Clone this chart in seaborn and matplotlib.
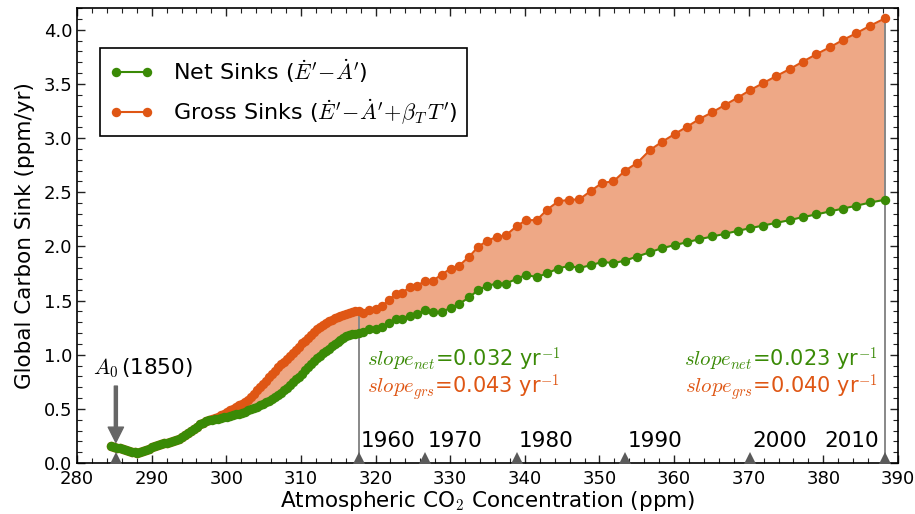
import matplotlib
matplotlib.use('Agg')
import matplotlib.pyplot as plt
from matplotlib.ticker import MultipleLocator
import pandas as pd
import seaborn as sns

# ---- values ----
# pre-1960 part (dense, overlapping yearly points)
co2_early = [284.5, 284.9, 285.3, 285.7, 286.1, 286.5, 286.9, 287.3, 287.7, 288.1,
             288.5, 288.9, 289.3, 289.7, 290.1, 290.5, 290.9, 291.3, 291.7, 292.1,
             292.5, 292.9, 293.3, 293.7, 294.1, 294.5, 294.9, 295.3, 295.7, 296.1,
             296.5, 296.9, 297.3,
             297.7, 298.1, 298.5, 298.9, 299.3, 299.7, 300.1, 300.5, 300.9, 301.3,
             301.7, 302.1, 302.5, 302.9, 303.3, 303.7, 304.1, 304.5, 304.9, 305.3,
             305.7, 306.1, 306.5, 306.9, 307.3, 307.7, 308.1, 308.5, 308.9, 309.3,
             309.7, 310.1, 310.5, 310.9, 311.3, 311.7, 312.1, 312.5, 312.9, 313.3,
             313.7, 314.1, 314.5, 314.9, 315.3, 315.7, 316.1, 316.5, 316.9, 317.3]
net_early = [0.157, 0.150, 0.143, 0.135, 0.128, 0.121, 0.114, 0.106, 0.099, 0.095,
             0.099, 0.108, 0.120, 0.132, 0.144, 0.155, 0.166, 0.174, 0.181, 0.189,
             0.197, 0.206, 0.215, 0.225, 0.240, 0.257, 0.278, 0.299, 0.318, 0.337,
             0.357, 0.372, 0.386,
             0.394, 0.399, 0.403, 0.408, 0.414, 0.421, 0.429, 0.435, 0.441, 0.449,
             0.457, 0.465, 0.475, 0.486, 0.497, 0.508, 0.521, 0.535, 0.549, 0.563,
             0.577, 0.593, 0.610, 0.629, 0.649, 0.672, 0.695, 0.719, 0.745, 0.771,
             0.798, 0.826, 0.854, 0.882, 0.910, 0.938, 0.965, 0.992, 1.014, 1.035,
             1.056, 1.078, 1.100, 1.121, 1.140, 1.158, 1.175, 1.183, 1.190, 1.195]
gross_early = [0.157, 0.150, 0.143, 0.135, 0.128, 0.121, 0.114, 0.106, 0.099, 0.095,
               0.099, 0.108, 0.120, 0.132, 0.144, 0.155, 0.166, 0.174, 0.181, 0.189,
               0.197, 0.206, 0.215, 0.225, 0.240, 0.257, 0.278, 0.299, 0.318, 0.337,
               0.357, 0.372, 0.386,
               0.396, 0.405, 0.415, 0.427, 0.441, 0.455, 0.471, 0.485, 0.498, 0.514,
               0.532, 0.548, 0.560, 0.583, 0.610, 0.641, 0.672, 0.702, 0.732, 0.760,
               0.790, 0.823, 0.852, 0.882, 0.912, 0.935, 0.962, 0.990, 1.020, 1.045,
               1.075, 1.105, 1.130, 1.158, 1.183, 1.210, 1.236, 1.255, 1.272, 1.290,
               1.308, 1.322, 1.335, 1.345, 1.356, 1.366, 1.376, 1.385, 1.395, 1.400]

# 1960-2010, one point per year
co2_late = [317.74, 318.36, 319.17, 320.02, 320.87, 321.80, 322.70, 323.59, 324.57, 325.55,
            326.67, 327.70, 328.86, 330.07, 331.22, 332.56, 333.77, 334.97, 336.23, 337.48,
            338.91, 340.16, 341.59, 343.01, 344.45, 345.88, 347.30, 348.87, 350.38, 351.86,
            353.46, 355.07, 356.77, 358.34, 360.08, 361.73, 363.38, 365.08, 366.78, 368.52,
            370.21, 371.95, 373.69, 375.49, 377.23, 379.01, 380.85, 382.63, 384.37, 386.29,
            388.26]
net_late = [1.200, 1.213, 1.235, 1.241, 1.259, 1.296, 1.327, 1.327, 1.361, 1.373,
            1.413, 1.392, 1.395, 1.432, 1.469, 1.530, 1.598, 1.635, 1.657, 1.657,
            1.700, 1.737, 1.716, 1.752, 1.795, 1.820, 1.801, 1.826, 1.857, 1.845,
            1.869, 1.906, 1.946, 1.983, 2.011, 2.039, 2.066, 2.091, 2.115, 2.143,
            2.168, 2.192, 2.217, 2.242, 2.270, 2.294, 2.322, 2.349, 2.374, 2.405,
            2.430]
gross_late = [1.404, 1.389, 1.413, 1.420, 1.450, 1.506, 1.561, 1.573, 1.623, 1.635,
              1.684, 1.684, 1.740, 1.795, 1.823, 1.906, 1.998, 2.051, 2.088, 2.103,
              2.187, 2.242, 2.242, 2.340, 2.414, 2.430, 2.433, 2.513, 2.587, 2.599,
              2.700, 2.771, 2.889, 2.963, 3.037, 3.104, 3.175, 3.236, 3.304, 3.372,
              3.443, 3.508, 3.572, 3.636, 3.704, 3.772, 3.837, 3.905, 3.966, 4.037,
              4.105]

year_labels = ['1960', '1970', '1980', '1990', '2000', '2010']
year_co2 = [317.74, 326.67, 338.91, 353.46, 370.21, 388.26]
start_co2 = 285.2           # 1850 marker
slope_net = ['0.032', '0.023']
slope_grs = ['0.043', '0.040']

GREEN = '#3a8a06'
ORANGE = '#df5614'
FILL = '#eea886'
GREY = '#666666'

sns.set_theme(style='ticks')
plt.rcParams.update({
    'font.family': ['DejaVu Sans'],
    'mathtext.fontset': 'cm',
    'text.color': 'black', 'axes.labelcolor': 'black',
    'xtick.color': 'black', 'ytick.color': 'black',
    'xtick.direction': 'in', 'ytick.direction': 'in',
    'xtick.top': True, 'ytick.right': True,
    'axes.linewidth': 1.2,
})

df = pd.DataFrame({'co2': co2_early + co2_late,
                   'net': net_early + net_late,
                   'gross': gross_early + gross_late})

fig = plt.figure(figsize=(9.15, 5.14), dpi=100)
ax = fig.add_axes([0.0842, 0.0992, 0.8972, 0.8852])

ax.fill_between(df['co2'], df['net'], df['gross'], color=FILL, lw=0, zorder=1)

# reference lines at 1960 and 2010
for xc, top in [(co2_late[0], gross_late[0]), (co2_late[-1], gross_late[-1])]:
    ax.plot([xc, xc], [0, top], color='#888888', lw=1.4, zorder=1.5)

sns.lineplot(data=df, x='co2', y='gross', ax=ax, color=ORANGE, marker='o',
             markersize=6.8, markeredgewidth=0, lw=1.5, zorder=3,
             label=r"Gross Sinks ($\dot{E}'\!-\!\dot{A}'\!+\!\beta_T\,T'$)")
sns.lineplot(data=df, x='co2', y='net', ax=ax, color=GREEN, marker='o',
             markersize=6.8, markeredgewidth=0, lw=1.5, zorder=4,
             label=r"Net Sinks ($\dot{E}'\!-\!\dot{A}'$)")

# year markers along the bottom axis
ax.plot([start_co2] + year_co2, [0] * (len(year_co2) + 1), ls='none', marker='^',
        ms=16, color='#5a5a5a', mew=0, zorder=5)
for lab, xc in zip(year_labels, year_co2):
    if lab == '2010':
        ax.text(xc - 0.8, 0.205, lab, fontsize=15.5, ha='right', va='center')
    else:
        ax.text(xc + 0.3, 0.205, lab, fontsize=15.5, ha='left', va='center')

# A0 arrow
ax.annotate('', xy=(start_co2, 0.19), xytext=(start_co2, 0.71),
            arrowprops=dict(facecolor=GREY, edgecolor=GREY, width=2.2,
                            headwidth=11, headlength=11))
ax.text(282.2, 0.88, r'$A_0\,$(1850)', fontsize=15.5, ha='left', va='center')

# slopes
for xt, ha, sn, sg in [(318.9, 'left', slope_net[0], slope_grs[0]),
                       (387.3, 'right', slope_net[1], slope_grs[1])]:
    ax.text(xt, 0.95, r'$slope_{net}$=' + sn + r' yr$^{-1}$',
            color=GREEN, fontsize=15, ha=ha, va='center')
    ax.text(xt, 0.70, r'$slope_{grs}$=' + sg + r' yr$^{-1}$',
            color=ORANGE, fontsize=15, ha=ha, va='center')

ax.set_xlim(280, 390)
ax.set_ylim(0, 4.2)
ax.xaxis.set_major_locator(MultipleLocator(10))
ax.xaxis.set_minor_locator(MultipleLocator(2))
ax.yaxis.set_major_locator(MultipleLocator(0.5))
ax.yaxis.set_minor_locator(MultipleLocator(0.1))
ax.tick_params(which='major', length=6, width=1, labelsize=13, color='#222222')
ax.tick_params(which='minor', length=3.5, width=0.8, color='#222222')
ax.tick_params(axis='x', pad=5)
ax.set_xlabel(r'Atmospheric CO$_2$ Concentration (ppm)', fontsize=15.5, labelpad=1)
ax.set_ylabel('Global Carbon Sink (ppm/yr)', fontsize=15.5, labelpad=6)
for s in ax.spines.values():
    s.set_color('black')

h, l = ax.get_legend_handles_labels()
leg = ax.legend(h[::-1], l[::-1], loc='upper left', bbox_to_anchor=(0.028, 0.912),
                borderaxespad=0, fontsize=16, numpoints=2, handlelength=2.0,
                frameon=True, fancybox=False, edgecolor='black', framealpha=1,
                borderpad=0.4, labelspacing=0.55, handletextpad=0.9)
leg.get_frame().set_linewidth(1.2)

fig.savefig('out.png', dpi=100)
